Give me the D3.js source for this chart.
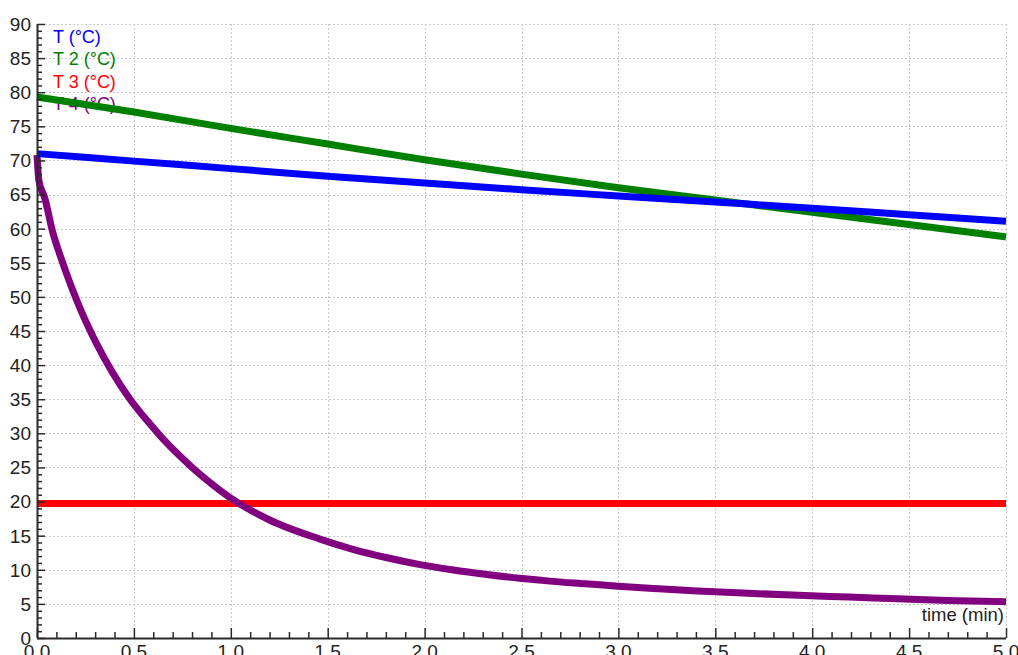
<!DOCTYPE html>
<html>
<head>
<meta charset="utf-8">
<script src="https://cdn.jsdelivr.net/npm/d3@7"></script>
<style>
  html, body { margin: 0; padding: 0; background: #fff; }
  svg { display: block; }
  text { font-family: "Liberation Sans", Arial, sans-serif; }
</style>
</head>
<body>
<div id="chart"></div>
<script>
// series (time in min, temperature in degC)
const timeSlow = [0, 0.5, 1.0, 1.5, 2.0, 2.5, 3.0, 3.5, 4.0, 4.5, 5.0];
const tempT1 = [71.0, 69.9, 68.8, 67.7, 66.7, 65.7, 64.8, 63.9, 63.0, 62.05, 61.1];
const tempT2 = [79.3, 77.1, 74.7, 72.4, 70.1, 68.0, 66.0, 64.2, 62.4, 60.6, 58.8];
const tempT3 = [19.7, 19.7, 19.7, 19.7, 19.7, 19.7, 19.7, 19.7, 19.7, 19.7, 19.7];

const timeT4 = [0, 0.01, 0.04, 0.08, 0.13, 0.18, 0.23, 0.31, 0.39, 0.48, 0.57, 0.65, 0.74,
    0.82, 0.91, 0.99, 1.08, 1.2, 1.46, 1.63, 1.8, 1.97, 2.14, 2.32, 2.49, 2.66, 2.83, 3.0,
    3.16, 3.41, 3.67, 3.93, 4.19, 4.44, 4.7, 5.0];
const tempT4 = [70.8, 67.0, 64.5, 59.6, 55.2, 51.3, 47.8, 43.0, 38.9, 35.0, 31.8, 29.2, 26.6,
    24.5, 22.4, 20.7, 19.1, 17.3, 14.5, 13.0, 11.8, 10.8, 10.0, 9.3, 8.75, 8.3, 7.95, 7.6,
    7.3, 6.9, 6.55, 6.25, 6.0, 5.75, 5.5, 5.3];

const seriesNames = ['T (°C)', 'T 2 (°C)', 'T 3 (°C)', 'T 4 (°C)'];
const seriesColors = ['#0000ff', '#008000', '#ff0000', '#800080'];

const xTickLabels = ['0.0', '0.5', '1.0', '1.5', '2.0', '2.5', '3.0', '3.5', '4.0', '4.5', '5.0'];
const yTickLabels = ['0', '5', '10', '15', '20', '25', '30', '35', '40', '45', '50', '55', '60', '65', '70', '75', '80', '85', '90'];

const width = 1018;
const height = 655;

const x = d3.scaleLinear().domain([0, 5]).range([37, 1006]);
const y = d3.scaleLinear().domain([0, 90]).range([638, 24]);

const svg = d3.select('#chart').append('svg')
    .attr('width', width)
    .attr('height', height);

/**
 * GRID
 * */
const grid = svg.append('g').attr('class', 'grid')
    .attr('stroke', '#c8c8c8')
    .attr('stroke-width', 1)
    .attr('stroke-dasharray', '2,2');

grid.selectAll('line.gx')
    .data(xTickLabels.map(Number).filter(d => d > 0))
    .join('line')
    .attr('class', 'gx')
    .attr('x1', d => Math.round(x(d)) + 0.5)
    .attr('x2', d => Math.round(x(d)) + 0.5)
    .attr('y1', y(90))
    .attr('y2', y(0));

grid.selectAll('line.gy')
    .data(yTickLabels.map(Number).filter(d => d > 0))
    .join('line')
    .attr('class', 'gy')
    .attr('x1', x(0))
    .attr('x2', x(5))
    .attr('y1', d => Math.round(y(d)) + 0.5)
    .attr('y2', d => Math.round(y(d)) + 0.5);

// white box behind the x axis title
svg.append('rect')
    .attr('x', 906).attr('y', 606)
    .attr('width', 99).attr('height', 25)
    .attr('fill', '#fff');

svg.append('text')
    .attr('x', 1004)
    .attr('y', 621)
    .attr('text-anchor', 'end')
    .attr('font-size', '18.5px')
    .attr('fill', '#222')
    .text('time (min)');

/**
 * LEGEND (drawn under the lines)
 * */
svg.append('g').attr('class', 'legend')
    .selectAll('text')
    .data(seriesNames)
    .join('text')
    .attr('x', 53)
    .attr('y', (d, i) => 43 + i * 22.3)
    .attr('font-size', '18px')
    .attr('fill', (d, i) => seriesColors[i])
    .text(d => d);

/**
 * LINES
 * */
const line = d3.line()
    .x(d => x(d[0]))
    .y(d => y(d[1]))
    .curve(d3.curveMonotoneX);

const series = [
    {pts: d3.zip(timeSlow, tempT3), color: seriesColors[2], w: 7},
    {pts: d3.zip(timeT4, tempT4), color: seriesColors[3], w: 7},
    {pts: d3.zip(timeSlow, tempT2), color: seriesColors[1], w: 7},
    {pts: d3.zip(timeSlow, tempT1), color: seriesColors[0], w: 7},
];

svg.append('g').attr('class', 'lines')
    .selectAll('path')
    .data(series)
    .join('path')
    .attr('d', d => line(d.pts))
    .attr('fill', 'none')
    .attr('stroke', d => d.color)
    .attr('stroke-width', d => d.w)
    .attr('stroke-linejoin', 'round');

/**
 * AXES with inward ticks
 * */
const axisColor = '#2a2a2a';

const yAxis = svg.append('g').attr('class', 'y-axis')
    .attr('transform', `translate(${x(0)},0)`)
    .call(d3.axisRight(y).tickValues(d3.range(0, 91, 1)).tickSize(5).tickFormat(''));
yAxis.selectAll('.tick line')
    .attr('stroke', axisColor).attr('stroke-width', 1.5)
    .attr('x2', d => (d % 5 === 0 ? 8 : 5));
yAxis.select('.domain').attr('stroke', axisColor).attr('stroke-width', 2)
    .attr('d', `M0.5,${y(90)}V${y(0)}`);

const xAxis = svg.append('g').attr('class', 'x-axis')
    .attr('transform', `translate(0,${y(0)})`)
    .call(d3.axisTop(x).tickValues(d3.range(0, 51, 1).map(d => d / 10)).tickSize(6).tickFormat(''));
xAxis.selectAll('.tick line')
    .attr('stroke', axisColor).attr('stroke-width', 1.5)
    .attr('y2', (d, i) => (i % 5 === 0 ? -10 : -6));
xAxis.select('.domain').attr('stroke', axisColor).attr('stroke-width', 2)
    .attr('d', `M${x(0)},0.5H${x(5)}`);

// tick labels
svg.append('g').attr('class', 'y-labels')
    .selectAll('text')
    .data(yTickLabels)
    .join('text')
    .attr('x', 31)
    .attr('y', d => y(+d))
    .attr('dy', '0.36em')
    .attr('text-anchor', 'end')
    .attr('font-size', '19px')
    .attr('fill', '#222')
    .text(d => d);

svg.append('g').attr('class', 'x-labels')
    .selectAll('text')
    .data(xTickLabels)
    .join('text')
    .attr('x', d => x(+d))
    .attr('y', 658)
    .attr('text-anchor', 'middle')
    .attr('font-size', '19px')
    .attr('fill', '#222')
    .text(d => d);
</script>
</body>
</html>
